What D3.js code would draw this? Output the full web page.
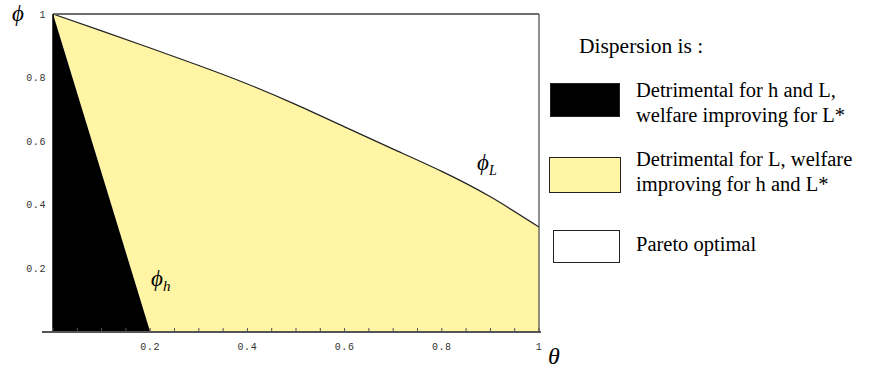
<!DOCTYPE html>
<html>
<head>
<meta charset="utf-8">
<script src="https://cdn.jsdelivr.net/npm/d3@7"></script>
<style>
  body { margin: 0; background: #fff; }
  .tick-label { font-family: "Liberation Mono", "DejaVu Sans Mono", monospace; font-size: 10px; fill: #333; letter-spacing: 0.6px; }
  .greek { font-family: "Liberation Serif", "DejaVu Serif", serif; font-style: italic; fill: #000; }
  .legend { font-family: "Liberation Serif", serif; font-size: 20.5px; fill: #000; }
</style>
</head>
<body>
<div id="chart"></div>
<script>
// phi_L boundary (theta, phi)
var thetaL = [0, 0.1, 0.2, 0.3, 0.4, 0.5, 0.6, 0.7, 0.8, 0.9, 1];
var phiL   = [1, 0.947, 0.893, 0.838, 0.78, 0.715, 0.645, 0.575, 0.505, 0.425, 0.33];

// phi_h boundary is a straight line
var thetaH = [0, 0.2];
var phiH   = [1, 0];

var xTicks = [0.2, 0.4, 0.6, 0.8, 1];
var yTicks = [0.2, 0.4, 0.6, 0.8, 1];
var minorTicks = d3.range(0, 21).map(function(i){ return i / 20; });

var legendItems = [
  { fill: "#000", lines: ["Detrimental for h and L,", "welfare improving for L*"] },
  { fill: "#fff5a5", lines: ["Detrimental for L, welfare", "improving for h and L*"] },
  { fill: "#fff", lines: ["Pareto optimal"] }
];

var width = 876, height = 373;

var svg = d3.select("#chart").append("svg")
    .attr("width", width)
    .attr("height", height);

// set the ranges
var x = d3.scaleLinear().domain([0, 1]).range([53, 539]);
var y = d3.scaleLinear().domain([0, 1]).range([332, 14]);

var curveData = thetaL.map(function(t, i){ return [t, phiL[i]]; });

var line = d3.line()
    .curve(d3.curveNatural)
    .x(function(d){ return x(d[0]); })
    .y(function(d){ return y(d[1]); });

// yellow region: between phi_h and phi_L
svg.append("path")
    .attr("d", line(curveData) + "L" + x(1) + "," + y(0) + "L" + x(thetaH[1]) + "," + y(phiH[1]) + "Z")
    .attr("fill", "#fff5a5");

// black region: below phi_h
svg.append("path")
    .attr("d", "M" + x(0) + "," + y(0) +
               "L" + x(thetaH[0]) + "," + y(phiH[0]) +
               "L" + x(thetaH[1]) + "," + y(phiH[1]) + "Z")
    .attr("fill", "#000");

// phi_L curve
svg.append("path")
    .attr("d", line(curveData))
    .attr("fill", "none")
    .attr("stroke", "#222")
    .attr("stroke-width", 1.2);

// frame top and right
svg.append("line")
    .attr("x1", x(0)).attr("x2", x(1))
    .attr("y1", y(1)).attr("y2", y(1))
    .attr("stroke", "#6e6e6e").attr("stroke-width", 2);
svg.append("line")
    .attr("x1", x(1)).attr("x2", x(1))
    .attr("y1", y(1)).attr("y2", y(0))
    .attr("stroke", "#444").attr("stroke-width", 1.2);

// left axis
svg.append("line")
    .attr("x1", x(0)).attr("x2", x(0))
    .attr("y1", y(1)).attr("y2", y(0))
    .attr("stroke", "#000").attr("stroke-width", 1.5);

// bottom axis
svg.append("line")
    .attr("x1", 42).attr("x2", 541)
    .attr("y1", y(0)).attr("y2", y(0))
    .attr("stroke", "#555").attr("stroke-width", 2);

svg.selectAll(".minor")
    .data(minorTicks)
    .enter().append("line")
    .attr("x1", function(d){ return x(d); })
    .attr("x2", function(d){ return x(d); })
    .attr("y1", y(0)).attr("y2", y(0) - 4)
    .attr("stroke", "#555").attr("stroke-width", 1);

svg.selectAll(".xlab")
    .data(xTicks)
    .enter().append("text")
    .attr("class", "tick-label")
    .attr("x", function(d){ return x(d); })
    .attr("y", 350)
    .attr("text-anchor", "middle")
    .text(function(d){ return d3.format("")(d); });

svg.selectAll(".ylab")
    .data(yTicks)
    .enter().append("text")
    .attr("class", "tick-label")
    .attr("x", 46)
    .attr("y", function(d){ return y(d); })
    .attr("dy", "0.35em")
    .attr("text-anchor", "end")
    .text(function(d){ return d3.format("")(d); });

// axis symbols
svg.append("text").attr("class", "greek")
    .attr("x", 12).attr("y", 21)
    .style("font-size", "23px")
    .text("\u03D5");
svg.append("text").attr("class", "greek")
    .attr("x", 548).attr("y", 364)
    .style("font-size", "24px")
    .text("\u03B8");

// boundary labels
var lh = svg.append("text").attr("class", "greek")
    .attr("x", 151).attr("y", 286)
    .style("font-size", "23px");
lh.append("tspan").text("\u03D5");
lh.append("tspan").attr("dy", 5).style("font-size", "15px").text("h");

var ll = svg.append("text").attr("class", "greek")
    .attr("x", 477).attr("y", 170)
    .style("font-size", "23px");
ll.append("tspan").text("\u03D5");
ll.append("tspan").attr("dy", 5).style("font-size", "14px").text("L");

// legend
svg.append("text").attr("class", "legend")
    .attr("x", 579).attr("y", 53)
    .style("font-size", "21.5px")
    .text("Dispersion is :");

var boxes = [
  { x: 550, y: 83, w: 69, h: 33, ty: 97 },
  { x: 549, y: 157, w: 71, h: 35, ty: 166 },
  { x: 553, y: 230, w: 66, h: 32, ty: 251 }
];

legendItems.forEach(function(item, i){
  var b = boxes[i];
  svg.append("rect")
      .attr("x", b.x + 0.5).attr("y", b.y + 0.5)
      .attr("width", b.w).attr("height", b.h)
      .attr("fill", item.fill)
      .attr("stroke", "#222").attr("stroke-width", 1);
  var t = svg.append("text").attr("class", "legend")
      .attr("x", 636).attr("y", b.ty);
  item.lines.forEach(function(l, j){
    t.append("tspan").attr("x", 636).attr("dy", j === 0 ? 0 : 25).text(l);
  });
});
</script>
</body>
</html>
